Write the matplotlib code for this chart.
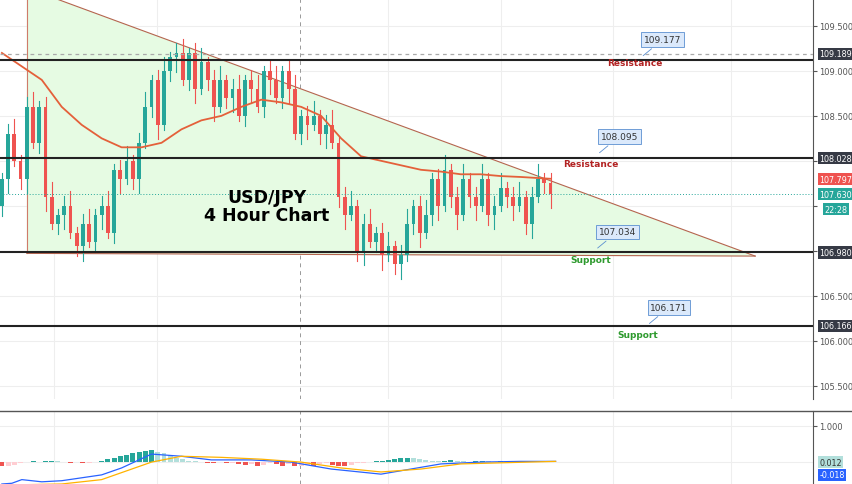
import numpy as np
import matplotlib.pyplot as plt
from matplotlib.patches import Polygon

# closes of the 4h candles (open = previous close)
closes = [107.8, 108.3, 108.0, 107.8, 108.6, 108.2, 108.6, 107.6, 107.3, 107.4,
          107.5, 107.2, 107.05, 107.3, 107.1, 107.4, 107.5, 107.2, 107.9, 107.8,
          108.0, 107.8, 108.2, 108.6, 108.9, 108.4, 109.0, 109.15, 109.2, 108.9,
          109.2, 108.8, 109.1, 108.9, 108.6, 108.9, 108.7, 108.8, 108.5, 108.9,
          108.8, 108.6, 109.0, 108.9, 108.7, 109.0, 108.8, 108.3, 108.5, 108.4,
          108.5, 108.3, 108.4, 108.2, 107.6, 107.4, 107.5, 107.0, 107.3, 107.1,
          107.2, 106.95, 107.05, 106.85, 106.95, 107.3, 107.5, 107.2, 107.4, 107.8,
          107.5, 107.9, 107.6, 107.4, 107.8, 107.6, 107.5, 107.8, 107.4, 107.5,
          107.7, 107.6, 107.5, 107.6, 107.3, 107.6, 107.8, 107.75, 107.63]
first_open = 107.5

ma_x = [0, 3.2, 6.4, 9.6, 12.8, 16, 19.2, 22.4, 25.6, 28.8, 32, 35.2, 38.4, 41.6,
        44.8, 48, 51.2, 54.4, 57.6, 60.8, 64, 67.2, 70.4, 73.6, 76.8, 80, 83.2, 88]
ma_y = [109.2, 109.05, 108.9, 108.6, 108.4, 108.25, 108.15, 108.15, 108.2, 108.35,
        108.45, 108.5, 108.6, 108.68, 108.65, 108.6, 108.5, 108.25, 108.05, 108.0,
        107.95, 107.9, 107.88, 107.85, 107.85, 107.83, 107.82, 107.8]

levels = [109.12, 108.028, 106.98, 106.166]
callouts = [(106, 109.35, "109.177", "Resistance", 101.5, 109.09),
            (99, 108.27, "108.095", "Resistance", 94.5, 107.97),
            (98.7, 107.21, "107.034", "Support", 94.5, 106.90),
            (107, 106.37, "106.171", "Support", 102, 106.07)]

macd_x = [0, 1.6, 3.2, 6.4, 9.6, 16, 19.2, 24, 28.8, 33.6, 40, 46.4, 52.8, 60.8, 65.6, 70.4, 76.8, 83.2, 88.8]
macd_blue = [-0.59, -0.57, -0.47, -0.53, -0.50, -0.34, -0.15, 0.23, 0.17, 0.07, 0.07, 0.01, -0.18, -0.32, -0.18, -0.04, 0.01, 0.03, 0.03]
macd_x2 = [0, 9.6, 16, 24, 28.8, 35.2, 41.6, 48, 54.4, 60.8, 67.2, 73.6, 80, 88.8]
macd_orange = [-0.62, -0.59, -0.47, 0.01, 0.17, 0.14, 0.09, 0.01, -0.15, -0.26, -0.18, -0.04, -0.01, 0.03]
hist = [-0.12, -0.10, -0.08, -0.04, 0.0, 0.03, 0.0, 0.04, 0.04, 0.02,
        0.0, -0.02, 0.0, -0.04, -0.04, 0.0, 0.02, 0.08, 0.12, 0.16,
        0.20, 0.24, 0.28, 0.30, 0.32, 0.28, 0.24, 0.18, 0.12, 0.08,
        0.04, 0.02, 0.0, -0.02, -0.04, 0.0, -0.04, -0.02, -0.06, -0.08,
        -0.06, -0.10, -0.08, -0.04, -0.06, -0.10, -0.06, -0.12, -0.10, -0.08,
        -0.12, -0.06, -0.04, -0.08, -0.10, -0.12, -0.08, -0.04, -0.02, 0.0,
        0.02, 0.04, 0.06, 0.08, 0.10, 0.12, 0.10, 0.08, 0.06, 0.04,
        0.02, 0.04, 0.06, 0.04, 0.02, 0.0, 0.02, 0.04, 0.02, 0.0,
        0.02, 0.0, -0.02, 0.0, 0.02, 0.04, 0.04, 0.02, 0.0]

fig = plt.figure(figsize=(8.52, 4.85), dpi=100)
ax = fig.add_axes([0, 85 / 485, 813 / 852, 1 - 85 / 485])
ax2 = fig.add_axes([0, 0, 813 / 852, 73 / 485])
XMAX = 813 / 6.25
for a in (ax, ax2):
    a.set_xlim(-0.3, XMAX)
    for s in ("top", "left", "bottom"):
        a.spines[s].set_visible(False)
    a.spines["right"].set_color("#555555")
    a.yaxis.tick_right()
    a.tick_params(axis="y", labelsize=6, colors="#555555", length=3, pad=1.5)
    a.set_xticks([])
    for gx in [8.3, 24.8, 62, 80, 98, 117]:
        a.axvline(gx, color="#eeeeee", lw=0.8, zorder=0)
    a.axvline(47.8, color="#999999", lw=0.7, ls=(0, (4, 4)), zorder=1)

ax.set_ylim(105.35, 109.80)
ax.set_yticks([105.5, 106.0, 106.5, 107.0, 107.5, 108.0, 108.5, 109.0, 109.5])
ax.set_yticklabels(["105.500", "106.000", "106.500", "", "", "", "108.500", "109.000", "109.500"])
for gy in ax.get_yticks():
    ax.axhline(gy, color="#eeeeee", lw=0.8, zorder=0)

# triangle
tri = Polygon([(4, 109.80), (8.8, 109.80), (120.8, 106.94), (4, 106.97)],
              closed=True, facecolor="#e6fbe3", edgecolor="none", zorder=1)
ax.add_patch(tri)
ax.plot([8.8, 120.8], [109.80, 106.94], color="#b5654f", lw=0.8, zorder=2)
ax.plot([4, 4], [109.80, 106.97], color="#d07a6a", lw=0.8, zorder=2)
ax.plot([4, 120.8], [106.97, 106.94], color="#b5654f", lw=0.8, zorder=2)

# candles
opens = [first_open] + closes[:-1]
for i, (o, c) in enumerate(zip(opens, closes)):
    col = "#26a69a" if c >= o else "#ef5350"
    hi = max(o, c) + 0.06 + 0.05 * (i % 3)
    lo = min(o, c) - 0.06 - 0.05 * ((i + 1) % 3)
    ax.plot([i, i], [lo, hi], color=col, lw=0.8, zorder=3)
    ax.bar(i, max(abs(c - o), 0.01), bottom=min(o, c), width=0.6, color=col, zorder=4)

ax.plot(ma_x, ma_y, color="#e4603a", lw=1.3, zorder=5)

for lv in levels:
    ax.axhline(lv, color="#222222", lw=1.5, zorder=6)
ax.axhline(109.189, color="#aaaaaa", lw=0.9, ls=(0, (3, 3)), zorder=6)
ax.axhline(107.63, color="#26a69a", lw=0.7, ls=(0, (1, 2)), zorder=6)

for bx, by, val, word, wx, wy in callouts:
    col = "#b22222" if word == "Resistance" else "#2e9a2e"
    ax.annotate(val, xy=(bx - 3.5, by - 0.2), xytext=(bx, by), fontsize=6.5, ha="center",
                va="center", color="#333333",
                bbox=dict(boxstyle="square,pad=0.3", fc="#dbe9fb", ec="#5b8fd0", lw=0.6),
                arrowprops=dict(arrowstyle="-", color="#5b8fd0", lw=0.6), zorder=8)
    ax.text(wx, wy, word, fontsize=6.5, color=col, ha="center", va="center",
            fontweight="bold", zorder=8)

ax.text(42.5, 107.5, "USD/JPY\n4 Hour Chart", fontsize=12.5, fontweight="bold",
        ha="center", va="center", linespacing=1.0, zorder=8)

tags = [(109.189, "109.189", "#363a45"), (108.028, "108.028", "#363a45"),
        (107.797, "107.797", "#ef5350"), (107.63, "107.630", "#26a69a"),
        (106.98, "106.980", "#363a45"), (106.166, "106.166", "#363a45")]
for ty, tt, tc in tags:
    ax.text(XMAX + 1.0, ty, tt, fontsize=5.8, color="white", va="center", ha="left",
            bbox=dict(boxstyle="square,pad=0.2", fc=tc, ec="none"),
            clip_on=False, zorder=9)
ax.text(XMAX + 1.9, 107.46, "22:28", fontsize=5.8, color="white", va="center", ha="left",
        bbox=dict(boxstyle="square,pad=0.2", fc="#26a69a", ec="none"), clip_on=False)

# MACD panel
ax2.set_ylim(-0.59, 1.41)
ax2.set_yticks([1.0])
ax2.set_yticklabels(["1.000"])
ax2.axhline(1.0, color="#eeeeee", lw=0.8, zorder=0)
ax2.axhline(0.012, color="#eeeeee", lw=0.8, zorder=0)
fig.add_artist(plt.Line2D([0, 1], [73 / 485, 73 / 485], color="#555555", lw=1))
hcols = []
for i, h in enumerate(hist):
    prev = hist[i - 1] if i else 0
    if h >= 0:
        hcols.append("#26a69a" if h >= prev else "#b2dfdb")
    else:
        hcols.append("#ef5350" if h < prev else "#ffcdd2")
ax2.bar(range(len(hist)), hist, bottom=0.012, width=0.8, color=hcols, zorder=2)
ax2.plot(macd_x, macd_blue, color="#2962ff", lw=0.9, zorder=3)
ax2.plot(macd_x2, macd_orange, color="#ffb300", lw=0.9, zorder=3)
for ty, tt, tc, fc in [(0.012, "0.012", "#333333", "#b2dfdb"), (-0.018, "-0.018", "white", "#2962ff")]:
    yy = ty if ty > 0 else -0.34
    ax2.text(XMAX + 1.0, yy, tt, fontsize=5.8, color=tc, va="center", ha="left",
             bbox=dict(boxstyle="square,pad=0.2", fc=fc, ec="none"), clip_on=False)

fig.savefig("out.png", dpi=100)
